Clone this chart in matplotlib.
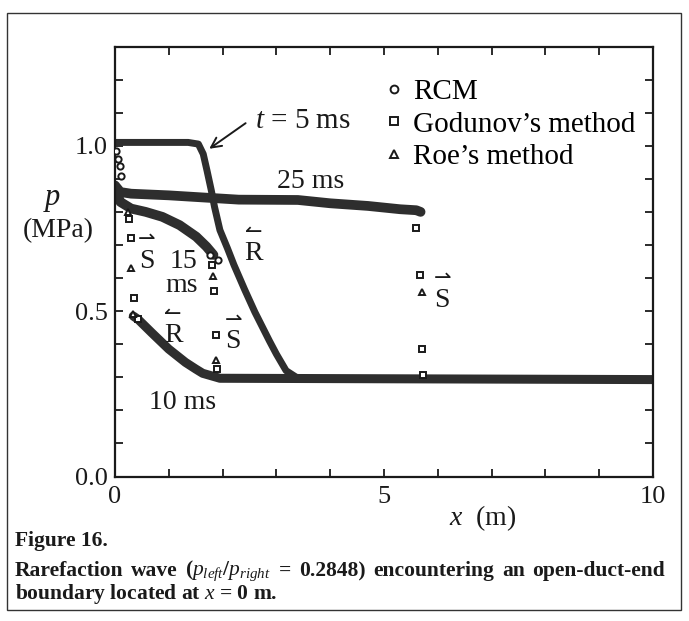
import numpy as np
import matplotlib
matplotlib.use("Agg")
import matplotlib.pyplot as plt
from matplotlib.patches import Rectangle

plt.rcParams['font.family'] = ['Liberation Serif', 'DejaVu Serif', 'DejaVu Sans']
plt.rcParams['mathtext.fontset'] = 'custom'
plt.rcParams['mathtext.rm'] = 'Liberation Serif'
plt.rcParams['mathtext.it'] = 'Liberation Serif:italic'
plt.rcParams['mathtext.bf'] = 'Liberation Serif:bold'

# ---------------- data ----------------
# dense bands (all three methods overlap)
t5_x = [0.0, 1.36, 1.55, 1.64, 1.71, 1.79, 1.85, 1.95, 2.09, 2.21, 2.41, 2.60, 2.87, 3.0, 3.18, 3.37, 3.63, 10.0]
t5_p = [1.01, 1.01, 1.005, 0.975, 0.925, 0.865, 0.815, 0.745, 0.69, 0.64, 0.565, 0.497, 0.41, 0.37, 0.32, 0.30, 0.295, 0.293]

t10_x = [0.34, 0.43, 0.68, 1.0, 1.31, 1.5, 1.63, 1.95, 10.0]
t10_p = [0.485, 0.475, 0.435, 0.385, 0.345, 0.325, 0.312, 0.297, 0.293]

t15_x = [0.0, 0.1, 0.3, 0.57, 0.88, 1.2, 1.51, 1.70, 1.83]
t15_p = [0.87, 0.83, 0.81, 0.80, 0.785, 0.76, 0.725, 0.695, 0.67]

t25_x = [0.0, 0.1, 0.3, 1.0, 1.8, 2.3, 3.4, 4.0, 4.7, 5.3, 5.6, 5.68]
t25_p = [0.88, 0.86, 0.855, 0.85, 0.842, 0.837, 0.836, 0.826, 0.818, 0.808, 0.805, 0.80]

# isolated points (shock smearing etc.)
rcm_x = [0.02, 0.06, 0.09, 0.12, 1.77, 1.92]
rcm_p = [0.985, 0.96, 0.94, 0.91, 0.67, 0.655]

god_x = [0.26, 0.29, 0.36, 0.43, 1.81, 1.84, 1.88, 1.90, 5.60, 5.66, 5.70, 5.72]
god_p = [0.78, 0.72, 0.54, 0.477, 0.64, 0.562, 0.427, 0.326, 0.75, 0.608, 0.385, 0.306]

roe_x = [0.24, 0.29, 0.33, 1.83, 1.88, 5.71]
roe_p = [0.80, 0.63, 0.49, 0.607, 0.352, 0.558]

series_labels = ["RCM", "Godunov\u2019s method", "Roe\u2019s method"]
x_ticks = list(range(0, 11))
x_tick_labels = ['0', '', '', '', '', '5', '', '', '', '', '10']
y_ticks = [round(0.1 * i, 1) for i in range(14)]
y_tick_labels = ['0.0', '', '', '', '', '0.5', '', '', '', '', '1.0', '', '', '']

caption_words = ['Rarefaction', 'wave', r'($p_{left}$/$p_{right}$', '=', '0.2848)',
                 'encountering', 'an', 'open-duct-end']

# ---------------- figure ----------------
W, H = 689, 621
fig = plt.figure(figsize=(W / 100, H / 100), dpi=100)
ax = fig.add_axes([115 / W, 1 - 476.5 / H, 538 / W, 430 / H])
ink = '#1a1a1a'

band_color = '#2e2e2e'
for xs, ps, lw in [(t5_x, t5_p, 5.0), (t10_x, t10_p, 6.5), (t15_x, t15_p, 7.0), (t25_x, t25_p, 7.0)]:
    ax.plot(xs, ps, color=band_color, lw=lw, solid_capstyle='round', solid_joinstyle='round', zorder=2)

mk = dict(linestyle='none', mfc='white', mec=ink, mew=1.4, zorder=3)
ax.plot(rcm_x, rcm_p, marker='o', ms=4.5, label=series_labels[0], **mk)
ax.plot(god_x, god_p, marker='s', ms=4.2, label=series_labels[1], **mk)
ax.plot(roe_x, roe_p, marker='^', ms=4.8, label=series_labels[2], **mk)

ax.set_xlim(0, 10)
ax.set_ylim(0, 1.3)
ax.set_xticks(x_ticks)
ax.set_xticklabels(x_tick_labels)
ax.set_yticks(y_ticks)
ax.set_yticklabels(y_tick_labels)
ax.tick_params(axis='both', direction='in', length=6, width=1.3, top=True, right=True,
               labelsize=19, colors=ink)
ax.tick_params(axis='x', pad=7)
ax.tick_params(axis='y', pad=5)
for s in ax.spines.values():
    s.set_linewidth(1.6)
    s.set_color(ink)

ax.legend(loc='upper left', bbox_to_anchor=(0.465, 0.972), frameon=False, fontsize=21,
          handlelength=0.6, handletextpad=0.35, labelspacing=0.2, borderpad=0.2,
          markerscale=1.25)

# annotations
txt = dict(fontsize=20, color=ink)
ax.annotate('', xy=(1.71, 0.986), xytext=(2.47, 1.073),
            arrowprops=dict(arrowstyle='->', lw=1.4, color=ink, mutation_scale=18))
ax.text(2.60, 1.076, r'$t$ = 5 ms', ha='left', va='center', fontsize=21, color=ink)
ax.text(3.64, 0.893, '25 ms', ha='center', va='center', **txt)
ax.text(1.27, 0.651, '15', ha='center', va='center', **txt)
ax.text(1.24, 0.578, 'ms', ha='center', va='center', **txt)
ax.text(1.26, 0.224, '10 ms', ha='center', va='center', **txt)

harp = dict(fontsize=15, color=ink, ha='center', va='center', family=['DejaVu Sans'])
for (lx, ly, lab, arrow) in [(2.58, 0.673, 'R', '\u21bc'), (1.08, 0.425, 'R', '\u21bc'),
                             (0.59, 0.651, 'S', '\u21c0'), (2.20, 0.408, 'S', '\u21c0'),
                             (6.08, 0.533, 'S', '\u21c0')]:
    ax.text(lx, ly, lab, ha='center', va='center', **txt)
    ax.text(lx, ly + 0.066, arrow, **harp)

# axis labels
fig.text(52 / W, 1 - 199 / H, r'$p$', fontsize=22, ha='center', va='center', color=ink)
fig.text(58 / W, 1 - 231 / H, '(MPa)', fontsize=20, ha='center', va='center', color=ink)
fig.text(483 / W, 1 - 518 / H, r'$x$  (m)', fontsize=20, ha='center', va='center', color=ink)

# caption
cap = dict(fontsize=15.5, fontweight='bold', color=ink, va='center')
fig.text(15 / W, 1 - 541 / H, 'Figure 16.', ha='left', **cap)
fig.text(15 / W, 1 - 594 / H, r'boundary located at $x$ = 0 m.', ha='left', **cap)

# justified caption line spanning the box width
renderer = fig.canvas.get_renderer()
word_texts = [fig.text(0, 1 - 571 / H, w, ha='left', **cap) for w in caption_words]
widths = [t.get_window_extent(renderer).width for t in word_texts]
x_left, x_right = 15.0, 665.0
gap = (x_right - x_left - sum(widths)) / (len(word_texts) - 1)
xpos = x_left
for t, w in zip(word_texts, widths):
    t.set_x(xpos / W)
    xpos += w + gap

# outer frame of the figure box
fig.patches.append(Rectangle((7 / W, 1 - 610 / H), 674 / W, 597 / H, transform=fig.transFigure,
                             fill=False, lw=1.0, edgecolor='#333333'))

fig.savefig('out.png', dpi=100)
